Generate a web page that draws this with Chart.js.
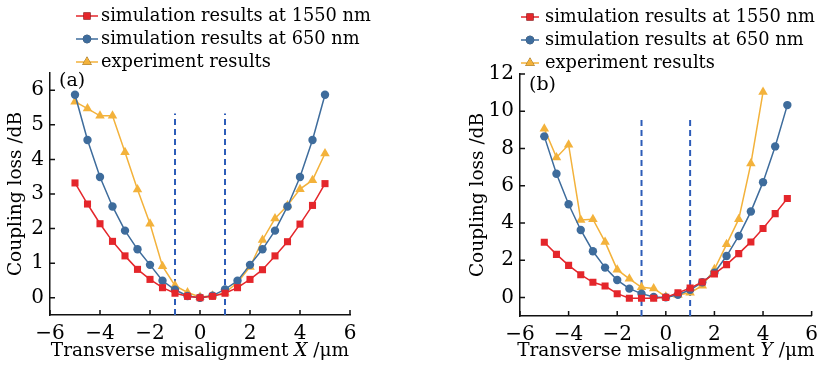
<!DOCTYPE html>
<html>
<head>
<meta charset="utf-8">
<script src="https://cdn.jsdelivr.net/npm/chart.js@4/dist/chart.umd.min.js"></script>
<style>
  body { margin: 0; background: #fff; width: 825px; height: 365px; position: relative; overflow: hidden; }
  canvas { position: absolute; top: 0; }
</style>
</head>
<body>
<canvas id="chartA" width="412" height="365" style="left:0"></canvas>
<canvas id="chartB" width="413" height="365" style="left:412px"></canvas>
<script>
// misalignment offsets (um)
const offsets = [-5, -4.5, -4, -3.5, -3, -2.5, -2, -1.5, -1, -0.5, 0, 0.5, 1, 1.5, 2, 2.5, 3, 3.5, 4, 4.5, 5];

// (a) X direction
const simA1550 = [3.32, 2.71, 2.14, 1.63, 1.21, 0.82, 0.53, 0.29, 0.13, 0.04, 0, 0.04, 0.13, 0.29, 0.53, 0.81, 1.21, 1.62, 2.13, 2.67, 3.30];
const simA650  = [5.87, 4.56, 3.49, 2.64, 1.94, 1.40, 0.95, 0.49, 0.23, 0.05, 0, 0.06, 0.24, 0.49, 0.95, 1.40, 1.94, 2.64, 3.49, 4.56, 5.87];
const expA     = [5.67, 5.47, 5.26, 5.26, 4.21, 3.13, 2.14, 0.91, 0.35, 0.15, 0.02, 0.06, 0.14, 0.44, 0.89, 1.67, 2.29, 2.67, 3.14, 3.40, 4.17];

// (b) Y direction
const simB1550 = [2.96, 2.31, 1.72, 1.22, 0.81, 0.61, 0.20, -0.05, -0.05, -0.05, 0, 0.25, 0.50, 0.83, 1.26, 1.76, 2.35, 2.98, 3.70, 4.50, 5.31];
const simB650  = [8.65, 6.64, 5.00, 3.62, 2.48, 1.60, 0.93, 0.47, 0.20, 0.02, 0, 0.14, 0.41, 0.81, 1.33, 2.22, 3.30, 4.61, 6.19, 8.11, 10.33];
const expB     = [9.06, 7.52, 8.20, 4.16, 4.20, 2.98, 1.49, 1.00, 0.54, 0.48, 0.04, 0.13, 0.25, 0.63, 1.51, 2.85, 4.20, 7.19, 11.03];

// tolerance markers (dashed lines)
const dashX = [-1, 1];
const dashTopA = 5.33;
const dashTopB = 9.75;

// ticks
const xTicks = [-6, -4, -2, 0, 2, 4, 6];
const yTicksA = [0, 1, 2, 3, 4, 5, 6];
const yTicksB = [0, 2, 4, 6, 8, 10, 12];

const labels = ['simulation results at 1550 nm', 'simulation results at 650 nm', 'experiment results'];
const RED = '#e4262b', BLUE = '#3e6c9c', YEL = '#f3b23b', DASH = '#2d5cb8';
const FONT = "'DejaVu Serif', serif";

function pts(vals) {
  return vals.map((v, i) => ({ x: offsets[i], y: v }));
}

function series(label, vals, color, style, r) {
  return {
    label: label, data: pts(vals), borderColor: color, backgroundColor: color,
    borderWidth: 1.5, pointStyle: style, pointRadius: r, pointHoverRadius: r,
    pointBorderWidth: 0, tension: 0
  };
}

function dashSet(x, lo, hi) {
  return {
    data: [{ x: x, y: lo }, { x: x, y: hi }], borderColor: DASH, borderWidth: 2,
    borderDash: [6, 4], pointRadius: 0, dash: true
  };
}

// inward ticks, panel tag, x title with italic letter, legend
const decor = {
  id: 'decor',
  afterDraw(chart, args, o) {
    const ctx = chart.ctx, xs = chart.scales.x, ys = chart.scales.y, a = chart.chartArea;
    ctx.save();
    ctx.strokeStyle = '#111';
    ctx.lineWidth = 1.5;
    ctx.beginPath();
    xs.ticks.forEach(t => {
      const p = xs.getPixelForValue(t.value);
      ctx.moveTo(p, a.bottom); ctx.lineTo(p, a.bottom - 5);
    });
    ys.ticks.forEach(t => {
      const p = ys.getPixelForValue(t.value);
      ctx.moveTo(a.left, p); ctx.lineTo(a.left + 5, p);
    });
    ctx.stroke();

    ctx.fillStyle = '#000';
    ctx.textBaseline = 'middle';
    ctx.textAlign = 'left';
    ctx.font = '19px ' + FONT;
    ctx.fillText(o.tag, a.left + 9, a.top + o.tagDy);

    // x title
    const parts = [['Transverse misalignment ', ''], [o.axis, 'italic '], [' /\u03bcm', '']];
    let w = 0;
    parts.forEach(p => { ctx.font = p[1] + '18.5px ' + FONT; w += ctx.measureText(p[0]).width; });
    let x = (a.left + a.right) / 2 - w / 2;
    parts.forEach(p => {
      ctx.font = p[1] + '18.5px ' + FONT;
      ctx.fillText(p[0], x, 351);
      x += ctx.measureText(p[0]).width;
    });

    // legend
    let row = 0;
    chart.data.datasets.forEach(ds => {
      if (ds.dash) return;
      const y = o.legY + row * 23;
      ctx.strokeStyle = ds.borderColor;
      ctx.lineWidth = 1.5;
      ctx.beginPath();
      ctx.moveTo(o.legX, y); ctx.lineTo(o.legX + o.legLen, y);
      ctx.stroke();
      Chart.helpers.drawPoint(ctx, { pointStyle: ds.pointStyle, radius: ds.pointRadius, borderWidth: 0 }, o.legX + o.legLen / 2, y);
      ctx.fillStyle = ds.borderColor;
      ctx.fill();
      ctx.fillStyle = '#000';
      ctx.font = '17.8px ' + FONT;
      ctx.fillText(ds.label, o.legX + o.legLen + o.gap, y);
      row++;
    });
    ctx.restore();
  }
};

function makeChart(id, sets, yMin, yMax, yTicks, pad, yWidth, decorOpts) {
  return new Chart(document.getElementById(id), {
    type: 'line',
    data: { datasets: sets },
    plugins: [decor],
    options: {
      responsive: false,
      animation: false,
      layout: { padding: pad },
      plugins: { legend: { display: false }, tooltip: { enabled: false }, decor: decorOpts },
      scales: {
        x: {
          type: 'linear', min: -6, max: 6,
          afterBuildTicks: s => { s.ticks = xTicks.map(v => ({ value: v })); },
          afterFit: s => { s.height = 365 - pad.top - 242; },
          grid: { display: false, drawTicks: false },
          border: { display: true, color: '#111', width: 1.5 },
          ticks: { padding: 7, color: '#000', font: { family: FONT, size: 20 },
                   callback: v => (v < 0 ? '\u2212' + (-v) : '' + v) }
        },
        y: {
          min: yMin, max: yMax,
          afterBuildTicks: s => { s.ticks = yTicks.map(v => ({ value: v })); },
          afterFit: s => { s.width = yWidth; },
          grid: { display: false, drawTicks: false },
          border: { display: true, color: '#111', width: 1.5 },
          ticks: { padding: 6, color: '#000', font: { family: FONT, size: 20 } },
          title: { display: true, text: 'Coupling loss /dB', color: '#000',
                   font: { family: FONT, size: 18.5 }, padding: { top: 5, bottom: 0 } }
        }
      }
    }
  });
}

makeChart('chartA', [
  series(labels[0], simA1550, RED, 'rect', 5),
  series(labels[1], simA650, BLUE, 'circle', 4.2),
  series(labels[2], expA, YEL, 'triangle', 5.5),
  dashSet(dashX[0], -0.5, dashTopA),
  dashSet(dashX[1], -0.5, dashTopA)
], -0.5, 6.5, yTicksA, { top: 73, right: 62, left: 0, bottom: 0 }, 50,
  { tag: '(a)', tagDy: 8, axis: 'X', legX: 76, legY: 16, legLen: 22, gap: 3 });

makeChart('chartB', [
  series(labels[0], simB1550, RED, 'rect', 5),
  series(labels[1], simB650, BLUE, 'circle', 4.2),
  series(labels[2], expB, YEL, 'triangle', 5.5),
  dashSet(dashX[0], -1, dashTopB),
  dashSet(dashX[1], -1, dashTopB)
], -1, 12, yTicksB, { top: 74, right: 5, left: 50, bottom: 0 }, 58,
  { tag: '(b)', tagDy: 11, axis: 'Y', legX: 109, legY: 17, legLen: 18, gap: 6 });
</script>
</body>
</html>
